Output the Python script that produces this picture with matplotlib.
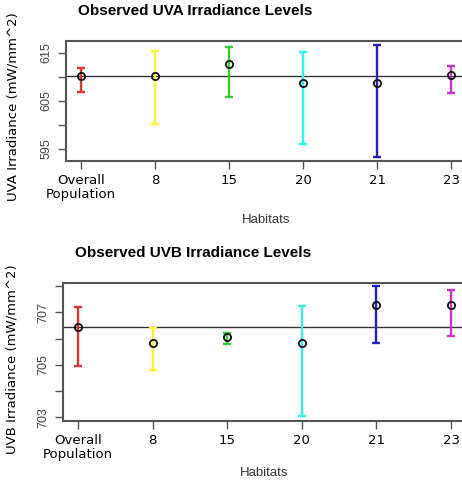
import matplotlib
matplotlib.use("Agg")
import matplotlib.pyplot as plt

W, H = 462, 484

habitats = ["Overall\nPopulation", "8", "15", "20", "21", "23"]
colors = ["#dd3333", "#f5f533", "#33cc33", "#33eeee", "#2222bb", "#cc33cc"]

uva_mean = [610.2, 610.2, 612.7, 608.75, 608.75, 610.4]
uva_hi = [611.9, 615.4, 616.25, 615.2, 616.7, 612.3]
uva_lo = [606.9, 600.2, 605.8, 596.0, 593.3, 606.7]
uva_ref = 610.2

uvb_mean = [706.45, 705.84, 706.06, 705.83, 707.27, 707.27]
uvb_hi = [707.2, 706.4, 706.2, 707.23, 708.0, 707.84]
uvb_lo = [704.95, 704.79, 705.8, 703.05, 705.83, 706.1]
uvb_ref = 706.45


def px_axes(fig, left, top, right, bottom):
    return fig.add_axes([left / W, 1 - bottom / H, (right - left) / W, (bottom - top) / H])


def panel(ax, mean, hi, lo, ref, yticks, ylabels, ylim, title, ylabel, xleft, xpad):
    x = list(range(1, len(habitats) + 1))
    for xi, m, h, l, c in zip(x, mean, hi, lo, colors):
        ax.errorbar([xi], [m], yerr=[[m - l], [h - m]], fmt="none", ecolor=c,
                    elinewidth=1.7, capsize=2.8, capthick=1.7, zorder=2)
    ax.plot(x, mean, "o", ms=5.2, mfc="none", mec="#111111", mew=1.3, zorder=3)
    ax.axhline(ref, color="#333333", lw=1, zorder=1)
    ax.set_xlim(xleft, 6.2)
    ax.set_ylim(*ylim)
    ax.set_xticks(x)
    ax.set_xticklabels(habitats, fontsize=9.5, family="DejaVu Sans", linespacing=1.1)
    ax.set_yticks(yticks)
    ax.set_yticklabels(ylabels, rotation=90, va="center", fontsize=9,
                       family="Liberation Sans", color="#444444")
    ax.tick_params(axis="both", color="#555555", width=1, length=6)
    for s in ax.spines.values():
        s.set_color("#555555")
        s.set_linewidth(1.5)
    ax.set_ylabel(ylabel, fontsize=9.5, family="DejaVu Sans")
    ax.set_xlabel("Habitats", fontsize=9.5, family="Liberation Sans", color="#333333", labelpad=xpad)
    ax.set_title(title, fontsize=11, fontweight="bold", family="Liberation Sans",
                 loc="left", x=0.03, pad=19)


fig = plt.figure(figsize=(W / 100, H / 100), dpi=100)

ax1 = px_axes(fig, 66, 41, 466, 161)
panel(ax1, uva_mean, uva_hi, uva_lo, uva_ref,
      [595, 600, 605, 610, 615], ["595", "", "605", "", "615"], (592.5, 617.5),
      "Observed UVA Irradiance Levels", "UVA Irradiance (mW/mm^2)", 0.8, 9)
ax1.yaxis.set_label_coords(-0.115, 0.45)

ax2 = px_axes(fig, 63, 283, 466, 421)
panel(ax2, uvb_mean, uvb_hi, uvb_lo, uvb_ref,
      [703, 704, 705, 706, 707, 708], ["703", "", "705", "", "707", ""], (702.85, 708.12),
      "Observed UVB Irradiance Levels", "UVB Irradiance (mW/mm^2)", 0.8, 4)
ax2.yaxis.set_label_coords(-0.11, 0.45)

fig.savefig("out.png", dpi=100)
